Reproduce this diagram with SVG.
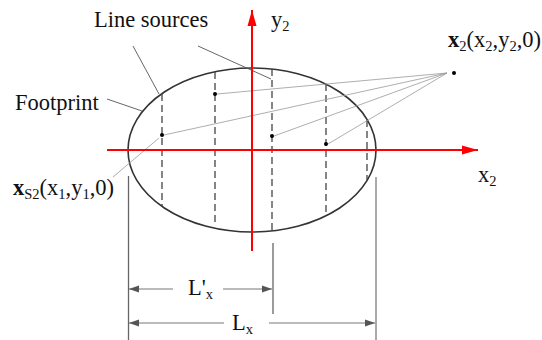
<svg xmlns="http://www.w3.org/2000/svg" width="542" height="340" viewBox="0 0 542 340">
<style>
text{font-family:"Liberation Serif","Times New Roman",serif;font-size:22.5px;fill:#111}
.sub{font-size:14.5px}
.ell{fill:none;stroke:#333;stroke-width:1.6}
.dash{stroke:#444;stroke-width:1.3;stroke-dasharray:7,4;fill:none}
.ray{stroke:#999;stroke-width:0.8;fill:none}
.lead{stroke:#555;stroke-width:0.9;fill:none}
.axis{stroke:#f00;stroke-width:2;fill:none}
.ext{stroke:#666;stroke-width:1.3;fill:none}
.dim{stroke:#777;stroke-width:1;fill:none}
.dot{fill:#000}
</style>
<defs>
<marker id="ah" viewBox="0 0 10 10" refX="10" refY="5" markerWidth="10" markerHeight="10" markerUnits="userSpaceOnUse" orient="auto-start-reverse">
<path d="M0,1.5 L10,5 L0,8.5 z" fill="#555"/>
</marker>
<marker id="rah" viewBox="0 0 16 10" refX="16" refY="5" markerWidth="16" markerHeight="10" markerUnits="userSpaceOnUse" orient="auto">
<path d="M0,0.5 L16,5 L0,9.5 z" fill="#f00"/>
</marker>
</defs>
<g id="footprint">
<ellipse class="ell" cx="252" cy="150" rx="124" ry="82"/>
</g>
<g id="line-sources">
<line class="dash" x1="162" y1="94" x2="162" y2="206"/>
<line class="dash" x1="215" y1="72" x2="215" y2="225"/>
<line class="dash" x1="272" y1="69" x2="272" y2="231"/>
<line class="dash" x1="326" y1="84" x2="326" y2="216"/>
<line class="dash" x1="367" y1="120" x2="367" y2="180"/>
</g>
<g id="connectors">
<line class="ray" x1="447" y1="73" x2="217" y2="94"/>
<line class="ray" x1="447" y1="73" x2="164" y2="135"/>
<line class="ray" x1="447" y1="73" x2="274" y2="136"/>
<line class="ray" x1="447" y1="73" x2="328" y2="144"/>
<line class="ray" x1="159" y1="138" x2="113" y2="177"/>
<line class="lead" x1="133" y1="46" x2="159" y2="94"/>
<line class="lead" x1="198" y1="46" x2="271" y2="79"/>
<line class="lead" x1="107" y1="99" x2="142" y2="111"/>
</g>
<g id="axes">
<line class="axis" x1="252" y1="251" x2="252" y2="10" marker-end="url(#rah)"/>
<line class="axis" x1="107" y1="150" x2="478" y2="150" marker-end="url(#rah)"/>
</g>
<g id="points">
<circle class="dot" cx="162" cy="135" r="2"/>
<circle class="dot" cx="215" cy="94" r="2"/>
<circle class="dot" cx="272" cy="136" r="2"/>
<circle class="dot" cx="326" cy="144" r="2"/>
<circle class="dot" cx="454" cy="73" r="2"/>
</g>
<g id="dimensions">
<line class="ext" x1="128.5" y1="176" x2="128.5" y2="340"/>
<line class="ext" x1="273" y1="243" x2="273" y2="314"/>
<line class="ext" x1="376" y1="177" x2="376" y2="340" style="stroke:#aaa;stroke-width:2"/>
<line class="dim" x1="173" y1="289" x2="129" y2="289" marker-end="url(#ah)"/>
<line class="dim" x1="223" y1="289" x2="272" y2="289" marker-end="url(#ah)"/>
<line class="dim" x1="224" y1="323" x2="129" y2="323" marker-end="url(#ah)"/>
<line class="dim" x1="269" y1="323" x2="375" y2="323" marker-end="url(#ah)"/>
</g>
<g id="labels">
<text x="94" y="27">Line sources</text>
<text x="15" y="110">Footprint</text>
<text x="271" y="27">y<tspan class="sub" dy="4">2</tspan></text>
<text x="478" y="182">x<tspan class="sub" dy="4">2</tspan></text>
<text x="448" y="47"><tspan font-weight="bold">x</tspan><tspan class="sub" dy="4">2</tspan><tspan dy="-4">(x</tspan><tspan class="sub" dy="4">2</tspan><tspan dy="-4">,y</tspan><tspan class="sub" dy="4">2</tspan><tspan dy="-4">,0)</tspan></text>
<text x="13" y="195"><tspan font-weight="bold">x</tspan><tspan class="sub" dy="4">S2</tspan><tspan dy="-4">(x</tspan><tspan class="sub" dy="4">1</tspan><tspan dy="-4">,y</tspan><tspan class="sub" dy="4">1</tspan><tspan dy="-4">,0)</tspan></text>
<text x="188" y="295">L'<tspan class="sub" dy="4">x</tspan></text>
<text x="232" y="330">L<tspan class="sub" dy="4">x</tspan></text>
</g>
</svg>
